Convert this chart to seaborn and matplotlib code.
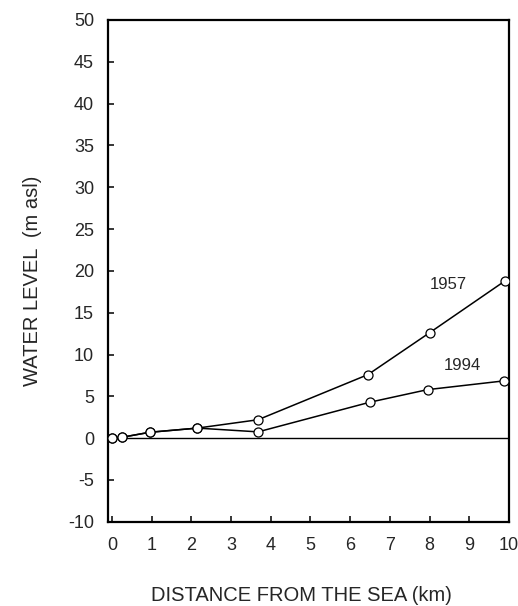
import numpy as np
import pandas as pd
import matplotlib
matplotlib.use('Agg')
import matplotlib.pyplot as plt
import seaborn as sns

## 데이터
dist_1957 = [0.0, 0.25, 0.95, 2.15, 3.68, 6.45, 8.0, 9.9]
level_1957 = [0.0, 0.1, 0.7, 1.2, 2.2, 7.6, 12.6, 18.8]
dist_1994 = [0.0, 0.25, 0.95, 2.15, 3.68, 6.5, 7.95, 9.88]
level_1994 = [0.0, 0.1, 0.7, 1.2, 0.75, 4.3, 5.8, 6.85]

df = pd.concat([
    pd.DataFrame({'dist': dist_1957, 'level': level_1957, 'year': '1957'}),
    pd.DataFrame({'dist': dist_1994, 'level': level_1994, 'year': '1994'}),
])

sns.set_style('ticks')
plt.rcParams['font.family'] = ['Liberation Sans', 'DejaVu Sans']
plt.rcParams['axes.unicode_minus'] = False

fig = plt.figure(figsize=(5.18, 6.06), dpi=100)
ax = fig.add_axes([0.2085, 0.139, 0.774, 0.828])

ax.axhline(0, color='black', lw=1.0, zorder=1)
sns.lineplot(data=df, x='dist', y='level', units='year', estimator=None,
             sort=False, color='black', lw=1.1, marker='o', markersize=6.5,
             markerfacecolor='white', markeredgecolor='black',
             markeredgewidth=0.9, ax=ax, zorder=3)

ax.text(8.47, 18.4, '1957', fontsize=12, ha='center', va='center')
ax.text(8.82, 8.7, '1994', fontsize=12, ha='center', va='center')

ax.set_xlim(-0.1, 10.0)
ax.set_ylim(-10, 50)
ax.set_xticks(range(0, 11))
ax.set_yticks(range(-10, 51, 5))
ax.tick_params(direction='in', length=4, width=1.3, labelsize=13)
ax.tick_params(axis='x', pad=11)
ax.tick_params(axis='y', pad=10)
for s in ax.spines.values():
    s.set_linewidth(1.6)
    s.set_color('black')

ax.set_xlabel('DISTANCE FROM THE SEA (km)', fontsize=14.5)
ax.xaxis.set_label_coords(0.482, -0.128)
ax.set_ylabel('WATER LEVEL  (m asl)', fontsize=14.5)
ax.yaxis.set_label_coords(-0.165, 0.48)

fig.savefig('out.png', dpi=100)
